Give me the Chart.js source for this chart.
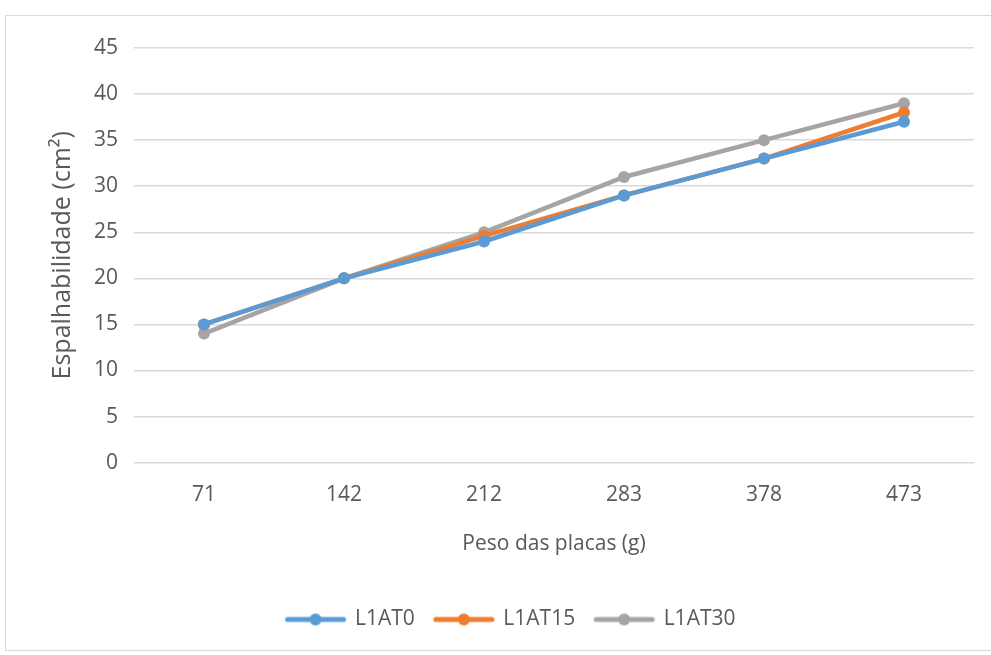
<!DOCTYPE html>
<html>
<head>
<meta charset="utf-8">
<script src="https://cdn.jsdelivr.net/npm/chart.js@4.4.1/dist/chart.umd.min.js"></script>
<style>
  html, body { margin: 0; padding: 0; background: #fff; }
  #wrap { position: absolute; left: 5px; top: 15px; width: 990px; height: 636px; border: 1px solid #d9d9d9; box-sizing: border-box; }
  #chart { position: absolute; left: 0; top: 0; }
</style>
</head>
<body>
<div id="wrap"><canvas id="chart" width="988" height="634"></canvas></div>
<script>
const categories = ['71', '142', '212', '283', '378', '473'];
const l1at0 = [15, 20, 24, 29, 33, 37];
const l1at15 = [15, 20, 24.6, 29, 33, 38];
const l1at30 = [14, 20, 25, 31, 35, 39];

const FONT = "'Open Sans', 'Liberation Sans', sans-serif";
const TXT = '#595959';
const FS = 21;

function legendIcon(color) {
  const c = document.createElement('canvas');
  c.width = 68; c.height = 16;
  const g = c.getContext('2d');
  g.strokeStyle = color; g.lineWidth = 5; g.lineCap = 'round';
  g.beginPath(); g.moveTo(6, 8); g.lineTo(62, 8); g.stroke();
  g.fillStyle = color;
  g.beginPath(); g.arc(34, 8, 6, 0, Math.PI * 2); g.fill();
  return c;
}

const series = [
  { label: 'L1AT0', data: l1at0, color: '#5b9bd5' },
  { label: 'L1AT15', data: l1at15, color: '#ed7d31' },
  { label: 'L1AT30', data: l1at30, color: '#a5a5a5' },
];

new Chart(document.getElementById('chart'), {
  type: 'line',
  data: {
    labels: categories,
    datasets: series.map(s => ({
      label: s.label, data: s.data,
      borderColor: s.color, backgroundColor: s.color,
      borderWidth: 4.5, pointRadius: 6, pointHoverRadius: 6,
      pointBorderWidth: 0, tension: 0,
    })),
  },
  options: {
    responsive: false, animation: false,
    layout: { padding: { left: 42, right: 20, top: 32, bottom: 10 } },
    plugins: {
      tooltip: { enabled: false },
      legend: {
        position: 'bottom',
        labels: {
          color: TXT, font: { family: FONT, size: FS },
          usePointStyle: true, pointStyleWidth: 58, padding: 20,
          generateLabels: chart => chart.data.datasets.map((d, i) => ({
            text: d.label, fillStyle: d.borderColor, strokeStyle: d.borderColor,
            pointStyle: legendIcon(d.borderColor), datasetIndex: i, lineWidth: 0,
            fontColor: TXT,
          })),
        },
      },
    },
    scales: {
      x: {
        offset: true,
        grid: { display: false },
        border: { color: '#d9d9d9', width: 1 },
        ticks: { color: TXT, font: { family: FONT, size: FS }, padding: 12 },
        title: { display: true, text: 'Peso das placas (g)', color: TXT, font: { family: FONT, size: FS }, padding: { top: 12, bottom: 32 } },
      },
      y: {
        min: 0, max: 45,
        ticks: { stepSize: 5, color: TXT, font: { family: FONT, size: FS }, padding: 16 },
        grid: { color: '#d9d9d9', lineWidth: 1.5, drawTicks: false },
        border: { display: false },
        title: { display: true, text: 'Espalhabilidade (cm²)', color: TXT, font: { family: FONT, size: 25 }, padding: { top: 0, bottom: 0 } },
      },
    },
  },
});
</script>
</body>
</html>
